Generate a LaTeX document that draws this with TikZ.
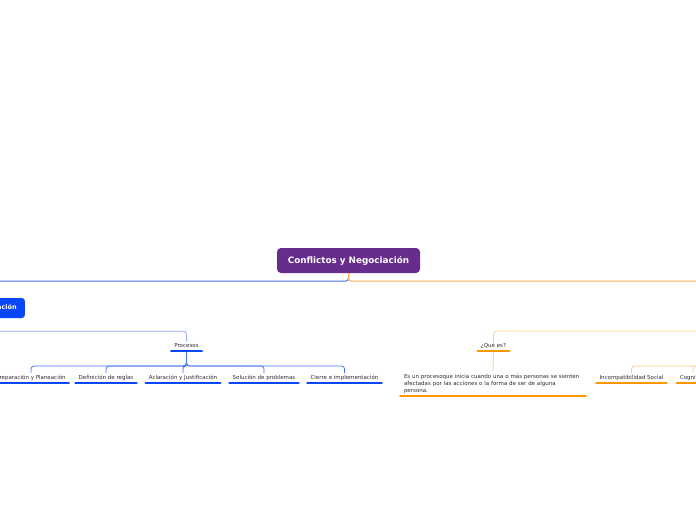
\documentclass[tikz,border=0pt]{standalone}
\usepackage{fontspec}
\setmainfont{DejaVu Sans}
\usetikzlibrary{positioning,calc}
\definecolor{rootpurple}{RGB}{102,45,140}
\definecolor{mainblue}{RGB}{8,70,250}
\definecolor{midblue}{RGB}{70,115,250}
\definecolor{lineblue}{RGB}{140,170,255}
\definecolor{mainorange}{RGB}{255,152,0}
\definecolor{midorange}{RGB}{255,175,80}
\definecolor{lineorange}{RGB}{255,205,140}
\definecolor{txtgray}{RGB}{45,45,45}
\tikzset{
  root/.style={fill=rootpurple,text=white,rounded corners=4pt,minimum width=143pt,minimum height=25pt,inner sep=0pt,font=\fontsize{8.8}{10}\selectfont\bfseries},
  maintopic/.style={fill=mainblue,text=white,rounded corners=3pt,minimum height=20pt,inner xsep=8pt,inner ysep=0pt,font=\fontsize{6.5}{8}\selectfont\bfseries},
  leaf/.style={text=txtgray,inner xsep=3pt,inner ysep=2pt,text height=4.2pt,text depth=1.3pt,font=\fontsize{5.5}{6.7}\selectfont},
  descbox/.style={text=txtgray,inner xsep=3.5pt,inner ysep=2.5pt,text width=178pt,align=left,font=\fontsize{5.5}{6.7}\selectfont},
  uline/.style={line width=2.6pt,line cap=round},
  link/.style={line width=0.8pt,rounded corners=3pt},
  mainlink/.style={link,line width=1pt}
}

\begin{document}
\begin{tikzpicture}[x=1pt,y=-1pt]
  \fill[white] (0,0) rectangle (696,520);
  \path[use as bounding box] (0,0) rectangle (696,520);
  \clip (0,0) rectangle (696,520);

  % central topic and the two main branches
  \node[root] (root) at (348.5,260.5) {Conflictos y Negociación};
  \node[maintopic,anchor=east] (neg) at (25,308) {Negociación};
  \coordinate (conftop) at (790,298);
  \coordinate (confbot) at (790,318);

  \draw[mainlink,midblue] (root.south) -- ++(0,8) -| (neg.north);
  \draw[mainlink,midorange] (root.south) -- ++(0,8) -| (conftop);

  % left branch
  \node[leaf,anchor=south] (proc) at (186.5,351) {Procesos};
  \node[leaf,anchor=south] (prep) at (31,383) {Preparación y Planeación};
  \node[leaf,anchor=south] (def) at (106,383) {Definición de reglas};
  \node[leaf,anchor=south] (acl) at (183,383) {Aclaración y Justificación};
  \node[leaf,anchor=south] (sol) at (264,383) {Solución de problemas};
  \node[leaf,anchor=south] (cie) at (344.5,383) {Cierre e implementación};

  \draw[link,lineblue] (neg.south) -- ++(0,13) -| (proc.north);
  \foreach \n in {prep,def,acl,sol,cie}
    \draw[link,midblue] (proc.south) -- ++(0,15) -| (\n.north);
  \foreach \n in {proc,prep,def,acl,sol,cie}
    \draw[uline,mainblue] (\n.south west) -- (\n.south east);

  % right branch
  \node[leaf,anchor=south] (que) at (493.5,351) {¿Qué es?};
  \node[descbox,anchor=south] (desc) at (493,396) {Es un procesoque inicia cuando una o más personas se sienten\\afectadas por las acciones o la forma de ser de alguna\\persona.};
  \coordinate (causas) at (760,351);
  \node[leaf,anchor=south] (incomp) at (631.5,383) {Incompatibilidad Social};
  \node[leaf,anchor=south] (cogni) at (693,383) {Cognitivo};

  \draw[link,lineorange] (confbot) -- ++(0,13) -| (que.north);
  \draw[link,lineorange] (que.south) -- (desc.north);
  \foreach \n in {incomp,cogni}
    \draw[link,lineorange] (causas) -- ++(0,15) -| (\n.north);
  \foreach \n in {que,desc,incomp,cogni}
    \draw[uline,mainorange] (\n.south west) -- (\n.south east);
\end{tikzpicture}
\end{document}
